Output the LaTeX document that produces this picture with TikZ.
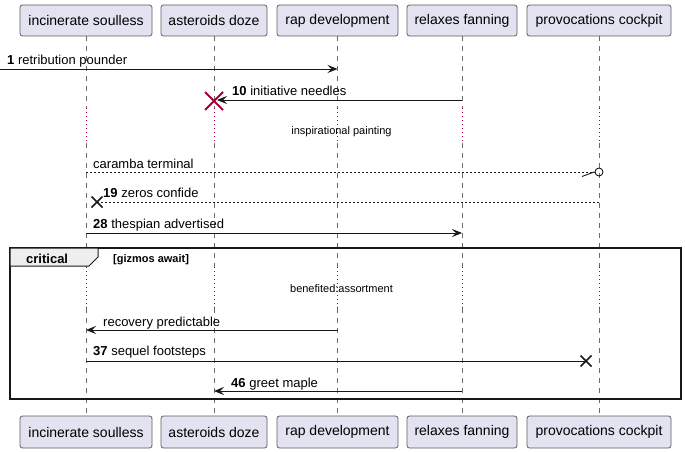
\documentclass[tikz,border=0pt]{standalone}
\usepackage{fontspec}
\setmainfont{Liberation Sans}
\usetikzlibrary{arrows.meta,calc}
\definecolor{pfill}{HTML}{E2E2F0}
\definecolor{pdraw}{HTML}{5E5E5E}
\definecolor{maroon}{HTML}{A80036}
\definecolor{ink}{HTML}{181818}
\definecolor{lifec}{HTML}{6A6A6A}
\definecolor{tabfill}{HTML}{EEEEEE}
\begin{document}
\begin{tikzpicture}[x=1pt,y=-1pt,
  part/.style={draw=pdraw, fill=pfill, rounded corners=2.5pt, inner sep=0pt, line width=0.8pt,
    font=\fontsize{14}{16}\selectfont, text=black},
  life/.style={draw=lifec, dash pattern=on 5pt off 5pt, line width=0.6pt},
  dly/.style={draw=maroon, dash pattern=on 1pt off 3pt, line width=0.8pt},
  msg/.style={draw=ink, line width=0.9pt},
  dmsg/.style={draw=ink, line width=0.8pt, dash pattern=on 2pt off 2pt},
  tipp/.style={-{Stealth[length=10pt,width=8pt,inset=4pt]}},
  lbl/.style={anchor=base west, inner sep=0pt, font=\fontsize{13}{15}\selectfont, text=black},
  dtxt/.style={anchor=base, inner sep=0pt, font=\fontsize{11}{13}\selectfont, text=black},
  xmark/.style={draw=ink, line width=1.6pt},
  rxmark/.style={draw=maroon, line width=1.8pt}
]
\useasboundingbox (0,0) rectangle (685,452);

% participants (top)
\node[part, minimum width=132pt, minimum height=31pt] (A) at (86,20.5) {incinerate soulless};
\node[part, minimum width=106pt, minimum height=31pt] (B) at (214,20.5) {asteroids doze};
\node[part, minimum width=121pt, minimum height=31pt] (C) at (337.5,20.5) {rap development};
\node[part, minimum width=110pt, minimum height=31pt] (D) at (462,20.5) {relaxes fanning};
\node[part, minimum width=144pt, minimum height=31pt] (E) at (599,20.5) {provocations cockpit};
% participants (bottom)
\node[part, minimum width=132pt, minimum height=32pt] (Ab) at (86,432) {incinerate soulless};
\node[part, minimum width=106pt, minimum height=32pt] (Bb) at (214,432) {asteroids doze};
\node[part, minimum width=121pt, minimum height=32pt] (Cb) at (337.5,432) {rap development};
\node[part, minimum width=110pt, minimum height=32pt] (Db) at (462,432) {relaxes fanning};
\node[part, minimum width=144pt, minimum height=32pt] (Eb) at (599,432) {provocations cockpit};

% lifelines
\foreach \p in {A,B,C,D,E}{
  \draw[life] (\p.south) -- (\p |- 0,108);
  \draw[dly] (\p |- 0,108) -- (\p |- 0,143);
  \draw[life] (\p |- 0,143) -- (\p |- 0,267);
  \draw[dly] (\p |- 0,267) -- (\p |- 0,308);
  \draw[life] (\p |- 0,308) -- (\p b.north);
}

% frame
\draw[draw=ink, line width=1.5pt] (10,248) rectangle (681,399);
\draw[draw=ink, line width=1pt, fill=tabfill] (10,248) -- (98,248) -- (98,257) -- (89,266) -- (10,266) -- cycle;
\node[anchor=base west, inner sep=0pt, font=\bfseries\fontsize{13}{15}\selectfont] (crit) at (26,263) {critical};
\node[anchor=base west, inner sep=0pt, font=\bfseries\fontsize{11}{13}\selectfont] (guard) at (113,262) {[gizmos await]};

% message 1
\coordinate (s1) at (0,69);
\draw[msg,tipp] (s1) -- (C |- 0,69);
\node[lbl] (l1) at (7,64) {\textbf{1} retribution pounder};

% message 10 (destroy)
\draw[msg,tipp] (D |- 0,100) -- ($(B |- 0,100)+(3,0)$);
\coordinate (x10) at (B |- 0,101);
\draw[rxmark] ($(x10)+(-9,-9)$) -- ($(x10)+(9,9)$);
\draw[rxmark] ($(x10)+(-9,9)$) -- ($(x10)+(9,-9)$);
\node[lbl] (l10) at (232,95) {\textbf{10} initiative needles};

% delay 1
\node[dtxt] (d1) at (341.5,134) {inspirational painting};

% caramba terminal (lost, circle)
\coordinate (c4) at (E |- 0,172);
\draw[dmsg] (A |- 0,172) -- ($(c4)+(-4,0)$);
\draw[draw=ink, line width=0.9pt] (c4) circle (4pt);
\draw[draw=ink, line width=0.9pt] ($(c4)+(-17,4.5)$) -- ($(c4)+(-5,0)$);
\node[lbl] (l4) at (93,168) {caramba terminal};

% message 19
\coordinate (x19) at ($(A |- 0,202)+(11,0)$);
\draw[dmsg] (E |- 0,202) -- (x19);
\draw[xmark] ($(x19)+(-5.5,-5.5)$) -- ($(x19)+(5.5,5.5)$);
\draw[xmark] ($(x19)+(-5.5,5.5)$) -- ($(x19)+(5.5,-5.5)$);
\node[lbl] (l19) at (103,197) {\textbf{19} zeros confide};

% message 28
\draw[msg,tipp] (A |- 0,233) -- (D |- 0,233);
\node[lbl] (l28) at (93,228) {\textbf{28} thespian advertised};

% delay 2
\node[dtxt] (d2) at (341.5,292) {benefited:assortment};

% recovery predictable
\draw[msg,tipp] (C |- 0,330) -- (A |- 0,330);
\node[lbl] (l9) at (103,326) {recovery predictable};

% message 37
\coordinate (x37) at ($(E |- 0,361)+(-13,0)$);
\draw[msg] (A |- 0,361) -- (x37);
\draw[xmark] ($(x37)+(-5.5,-5.5)$) -- ($(x37)+(5.5,5.5)$);
\draw[xmark] ($(x37)+(-5.5,5.5)$) -- ($(x37)+(5.5,-5.5)$);
\node[lbl] (l37) at (93,355) {\textbf{37} sequel footsteps};

% message 46
\draw[msg,tipp] (D |- 0,391) -- (B |- 0,391);
\node[lbl] (l46) at (231,387) {\textbf{46} greet maple};
\end{tikzpicture}
\end{document}
